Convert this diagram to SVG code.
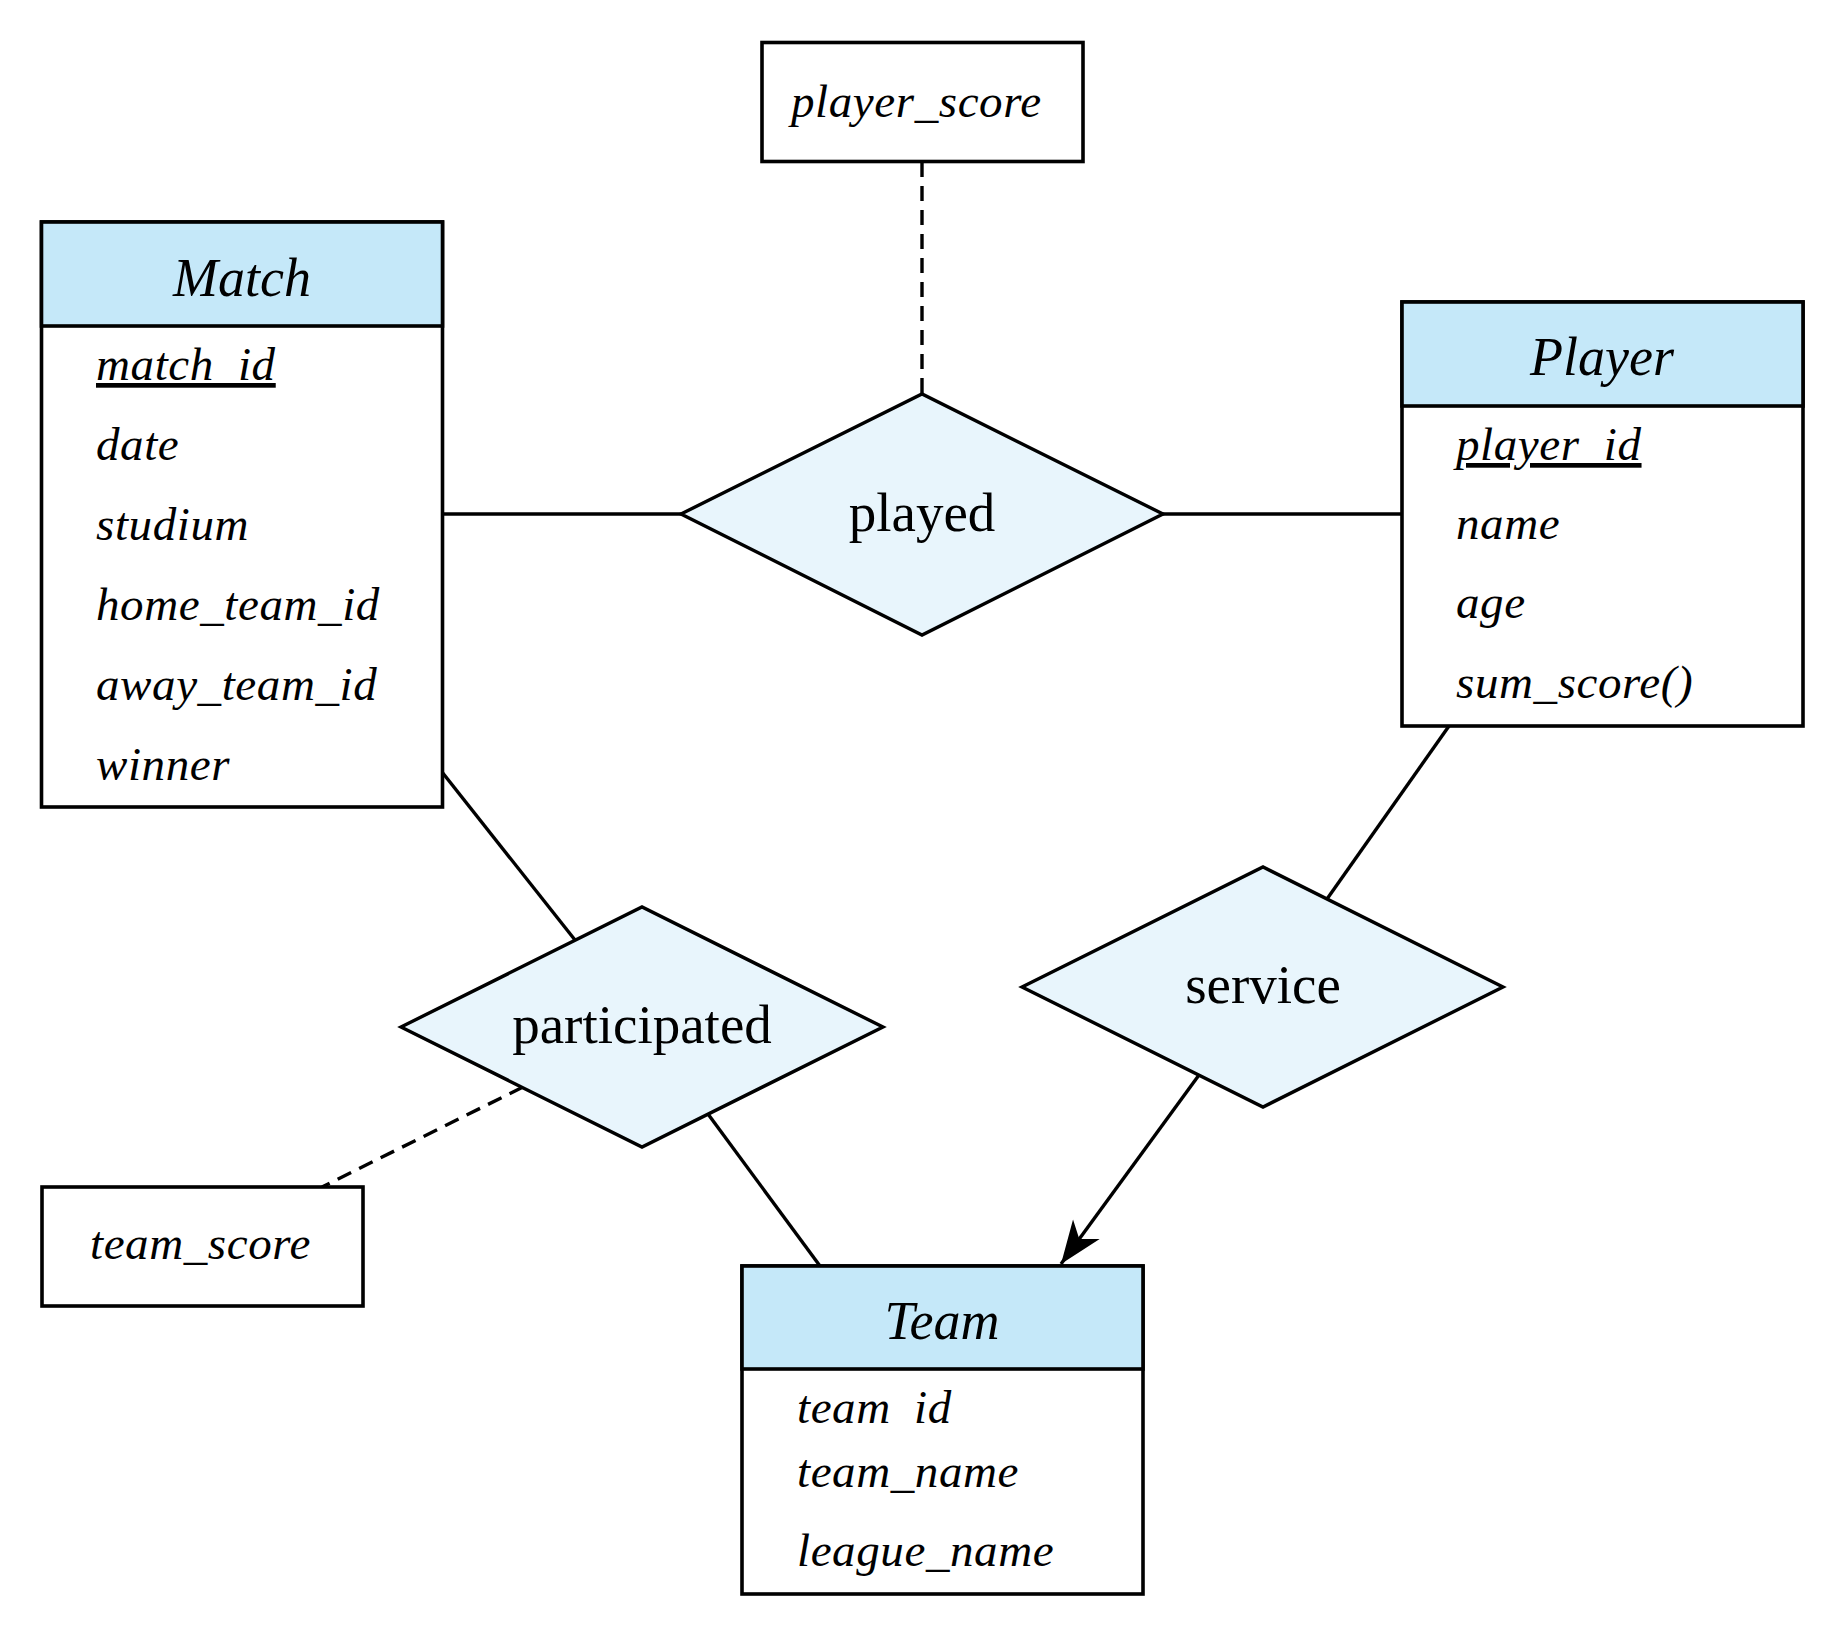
<svg xmlns="http://www.w3.org/2000/svg" width="1848" height="1640" viewBox="0 0 1848 1640">
  <style>
    .box { fill: #ffffff; stroke: #000000; stroke-width: 3.6; }
    .hdr { fill: #C5E8F9; stroke: #000000; stroke-width: 3.6; }
    .rel { fill: #E8F5FC; stroke: #000000; stroke-width: 3.4; stroke-linejoin: miter; }
    .title { font-family: "Liberation Serif", "Times New Roman", serif; font-style: italic; font-size: 54px; fill: #000; text-anchor: middle; }
    .attr { font-family: "Liberation Serif", "Times New Roman", serif; font-style: italic; font-size: 47px; letter-spacing: 0.6px; fill: #000; }
    .rlabel { font-family: "Liberation Serif", "Times New Roman", serif; font-size: 55px; fill: #000; text-anchor: middle; }
    .key { text-decoration: underline; }
    .line { stroke: #000; stroke-width: 3.4; fill: none; }
    .dash { stroke: #000; stroke-width: 3.4; fill: none; stroke-dasharray: 15 9; }
  </style>
  <defs>
    <marker id="arrow" markerUnits="userSpaceOnUse" viewBox="-46 -19 48 38" markerWidth="48" markerHeight="38" refX="0" refY="0" orient="auto" overflow="visible">
      <path d="M0,0 L-43,-16.5 L-31,0 L-43,16.5 Z" fill="#000"/>
    </marker>
  </defs>
  <rect width="1848" height="1640" fill="#ffffff"/>

  <g id="connectors">
    <line class="line" x1="442" y1="514" x2="681" y2="514"/>
    <line class="line" x1="1163" y1="514" x2="1403" y2="514"/>
    <line class="dash" x1="922" y1="162" x2="922" y2="394"/>
    <line class="line" x1="442" y1="772" x2="575" y2="940"/>
    <line class="line" x1="708" y1="1114" x2="820" y2="1266"/>
    <line class="dash" x1="523" y1="1087" x2="322" y2="1187"/>
    <line class="line" x1="1449" y1="726" x2="1327" y2="899"/>
    <line class="line" x1="1199" y1="1075" x2="1061" y2="1264" marker-end="url(#arrow)"/>
  </g>

  <g id="match">
    <rect class="box" x="41.5" y="222" width="401" height="585"/>
    <rect class="hdr" x="41.5" y="222" width="401" height="104"/>
    <text class="title" x="242" y="296">Match</text>
    <text class="attr key" x="96" y="380">match_id</text>
    <text class="attr" x="96" y="460">date</text>
    <text class="attr" x="96" y="540">studium</text>
    <text class="attr" x="96" y="620">home_team_id</text>
    <text class="attr" x="96" y="700">away_team_id</text>
    <text class="attr" x="96" y="780">winner</text>
  </g>

  <g id="player">
    <rect class="box" x="1402" y="302" width="401" height="424"/>
    <rect class="hdr" x="1402" y="302" width="401" height="104"/>
    <text class="title" x="1602" y="375">Player</text>
    <text class="attr key" x="1456" y="460">player_id</text>
    <text class="attr" x="1456" y="539">name</text>
    <text class="attr" x="1456" y="618">age</text>
    <text class="attr" x="1456" y="698">sum_score()</text>
  </g>

  <g id="team">
    <rect class="box" x="742" y="1266" width="401" height="328"/>
    <rect class="hdr" x="742" y="1266" width="401" height="103"/>
    <text class="title" x="942" y="1339">Team</text>
    <text class="attr" x="797" y="1423">team <tspan x="914">id</tspan></text>
    <text class="attr" x="797" y="1487">team_name</text>
    <text class="attr" x="797" y="1566">league_name</text>
  </g>

  <g id="player_score">
    <rect class="box" x="762" y="42.5" width="321" height="119"/>
    <text class="attr" x="791" y="117">player_score</text>
  </g>

  <g id="team_score">
    <rect class="box" x="42" y="1187" width="321" height="119"/>
    <text class="attr" x="90" y="1259">team_score</text>
  </g>

  <g id="played">
    <polygon class="rel" points="681,514 922,394 1163,514 922,635"/>
    <text class="rlabel" x="922" y="531">played</text>
  </g>

  <g id="participated">
    <polygon class="rel" points="401,1027 642,907 883,1027 642,1147"/>
    <text class="rlabel" x="642" y="1043">participated</text>
  </g>

  <g id="service">
    <polygon class="rel" points="1022,987 1263,867 1503,987 1263,1107"/>
    <text class="rlabel" x="1263" y="1003">service</text>
  </g>
</svg>
